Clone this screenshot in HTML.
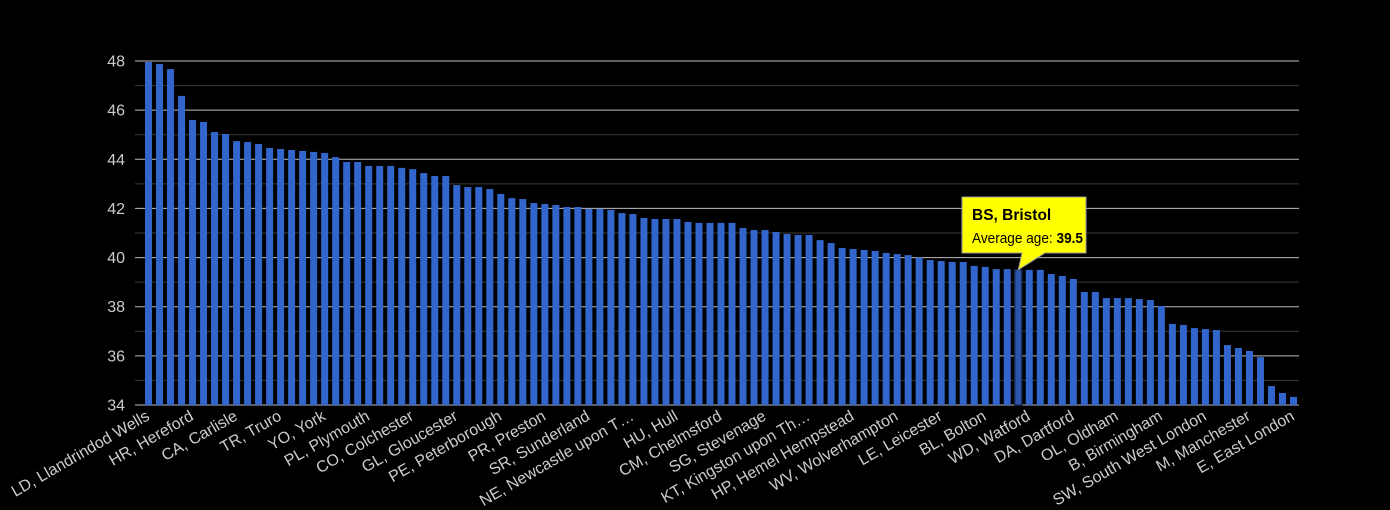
<!DOCTYPE html>
<html><head><meta charset="utf-8"><style>
body{margin:0;background:#000;width:1390px;height:510px;overflow:hidden}
svg{display:block;font-family:"Liberation Sans",Arial,sans-serif}
</style></head><body>
<svg id="chart" width="1390" height="510">
<rect width="1390" height="510" fill="#000"/>
<g id="grid"></g>
<g id="yticks"></g>
<g id="bars"></g>
<g id="xlabels"></g>
<g id="tip"></g>
</svg>
<script>
const values=[47.96,47.88,47.67,46.58,45.6,45.52,45.11,45.03,44.74,44.7,44.62,44.46,44.42,44.38,44.34,44.3,44.26,44.09,43.89,43.89,43.73,43.73,43.73,43.65,43.6,43.44,43.32,43.32,42.95,42.87,42.87,42.79,42.59,42.42,42.38,42.22,
42.18,42.14,42.06,42.06,41.98,41.98,41.94,41.81,41.77,41.61,41.57,41.57,41.57,41.45,41.41,41.41,41.41,41.41,41.2,41.12,41.12,41.04,40.96,40.92,40.92,40.71,40.59,40.39,40.35,40.31,40.27,40.19,40.14,40.1,40.0,39.9,
39.86,39.82,39.82,39.66,39.62,39.53,39.53,39.5,39.5,39.5,39.33,39.25,39.13,38.6,38.6,38.35,38.35,38.35,38.31,38.27,38.03,37.3,37.26,37.13,37.09,37.05,36.44,36.32,36.2,35.95,34.77,34.49,34.33];
const labelIdx=[0,4,8,12,16,20,24,28,32,36,40,44,48,52,56,60,64,68,72,76,80,84,88,92,96,100,104];
const labels=["LD, Llandrindod Wells","HR, Hereford","CA, Carlisle","TR, Truro","YO, York","PL, Plymouth","CO, Colchester","GL, Gloucester","PE, Peterborough","PR, Preston","SR, Sunderland","NE, Newcastle upon T…","HU, Hull","CM, Chelmsford","SG, Stevenage","KT, Kingston upon Th…","HP, Hemel Hempstead","WV, Wolverhampton","LE, Leicester","BL, Bolton","WD, Watford","DA, Dartford","OL, Oldham","B, Birmingham","SW, South West London","M, Manchester","E, East London"];
const yTicks=[34,36,38,40,42,44,46,48];
const highlight=79, highlightName="BS, Bristol";
const NS="http://www.w3.org/2000/svg";
const x0=143,x1=1299,yTop=61,yBot=405,vMin=34,vMax=48;
const pitch=(x1-x0)/values.length;
const y=v=>yBot-(v-vMin)/(vMax-vMin)*(yBot-yTop);
const xc=i=>x0+pitch*(i+0.5);
function mk(tag,attrs,parent){const e=document.createElementNS(NS,tag);for(const k in attrs)e.setAttribute(k,attrs[k]);parent.appendChild(e);return e;}
const grid=document.getElementById('grid');
for(let v=vMin;v<=vMax;v++){
  const l=mk('line',{x1:135,x2:x1,y1:y(v),y2:y(v),stroke:v%2===0?'#bbb':'#3a3a3a','stroke-width':1},grid);
  
  
}
const yt=document.getElementById('yticks');
yTicks.forEach(v=>{
  const t=mk('text',{x:125,y:y(v)+5.5,'text-anchor':'end','font-size':16,fill:'#ccc'},yt);
  t.textContent=v;
  
  
});
const bg=document.getElementById('bars');
const bw=7;
values.forEach((v,i)=>{
  const r=mk('rect',{x:xc(i)-bw/2,y:y(v),width:bw,height:yBot-y(v),fill:'#3366cc'},bg);
  if(i===highlight){r.setAttribute('stroke','#1a2a55');r.setAttribute('stroke-width','1.5');r.setAttribute('fill','#2c55aa');}
  
  
});
const xl=document.getElementById('xlabels');
labelIdx.forEach((idx,k)=>{
  const cx=xc(idx)+2, cy=419;
  const t=mk('text',{x:cx,y:cy,'text-anchor':'end','font-size':16,fill:'#ccc',transform:`rotate(-30 ${cx} ${cy})`},xl);
  t.textContent=labels[k];
  
  
});
const tip=document.getElementById('tip');
const px=xc(highlight), py=y(values[highlight]);
const p=mk('path',{d:`M962 197 H1086 V253 H1045 L${px} ${py} L1022 253 H962 Z`,fill:'#ffff00',stroke:'#999','stroke-width':1},tip);


const t1=mk('text',{x:972,y:220,'font-size':15.5,'font-weight':'bold',fill:'#000'},tip);
t1.textContent=highlightName;


const t2=mk('text',{x:972,y:243,'font-size':14.5,fill:'#000',textLength:111,lengthAdjust:'spacingAndGlyphs'},tip);


t2.appendChild(document.createTextNode('Average age: '));
const b=mk('tspan',{'font-weight':'bold'},t2);b.textContent=values[highlight].toFixed(1);
</script>
</body></html>
